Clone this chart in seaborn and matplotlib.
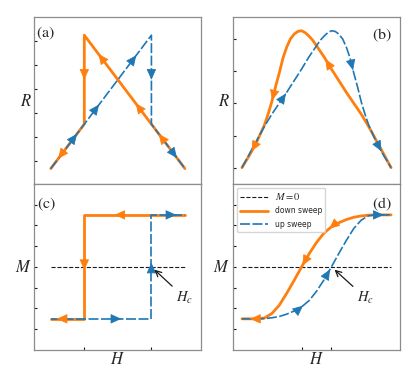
import matplotlib
matplotlib.use("Agg")
import matplotlib.pyplot as plt
import numpy as np
import pandas as pd
import seaborn as sns

# --- DATA ---
# (a) piecewise-linear R(H) loops
H_a_down = [1.0, -0.5, -0.5, -1.0]
R_a_down = [0.0, 1.5, 0.5, 0.0]
H_a_up = [-1.0, 0.5, 0.5, 1.0]
R_a_up = [0.0, 1.5, 0.5, 0.0]

# (b) smooth R(H) loops
H_b_up = [-1.0, -0.9, -0.8, -0.7, -0.6, -0.5, -0.4, -0.3, -0.2, -0.1, 0.0, 0.05, 0.1, 0.15,
          0.2, 0.25, 0.3, 0.35, 0.4, 0.45, 0.5, 0.55, 0.6, 0.65, 0.7, 0.8, 0.9, 1.0]
R_b_up = [0.0, 0.1, 0.2, 0.3, 0.39, 0.47, 0.55, 0.635, 0.72, 0.81, 0.89, 0.93, 0.96, 0.985,
          1.0, 0.995, 0.975, 0.94, 0.88, 0.80, 0.69, 0.59, 0.48, 0.39, 0.31, 0.19, 0.09, 0.0]
H_b_down = [1.0, 0.9, 0.8, 0.7, 0.6, 0.5, 0.4, 0.3, 0.2, 0.1, 0.0, -0.05, -0.1, -0.15,
            -0.2, -0.25, -0.3, -0.35, -0.4, -0.45, -0.5, -0.55, -0.6, -0.65, -0.7, -0.8, -0.9, -1.0]
R_b_down = [0.0, 0.1, 0.2, 0.3, 0.39, 0.47, 0.55, 0.635, 0.72, 0.81, 0.89, 0.93, 0.96, 0.985,
            1.0, 0.995, 0.975, 0.94, 0.88, 0.80, 0.69, 0.59, 0.48, 0.39, 0.31, 0.19, 0.09, 0.0]

# (c) square M(H) loops
H_c_down = [1.0, -0.5, -0.5, -1.0]
M_c_down = [1.0, 1.0, -1.0, -1.0]
H_c_up = [-1.0, 0.5, 0.5, 1.0]
M_c_up = [-1.0, -1.0, 1.0, 1.0]

# (d) smooth M(H) loops
H_d_up = [-1.0, -0.8, -0.7, -0.6, -0.5, -0.4, -0.3, -0.2, -0.1, 0.0,
          0.1, 0.2, 0.3, 0.4, 0.5, 0.6, 0.7, 0.8, 1.0]
M_d_up = [-1.0, -1.0, -0.995, -0.98, -0.955, -0.91, -0.85, -0.77, -0.65, -0.47,
          -0.25, 0.0, 0.26, 0.51, 0.74, 0.9, 0.985, 1.0, 1.0]
H_d_down = [1.0, 0.8, 0.7, 0.6, 0.5, 0.4, 0.3, 0.2, 0.1, 0.0,
            -0.1, -0.2, -0.3, -0.4, -0.5, -0.6, -0.7, -0.8, -1.0]
M_d_down = [1.0, 1.0, 0.995, 0.98, 0.955, 0.91, 0.85, 0.77, 0.65, 0.47,
            0.25, 0.0, -0.26, -0.51, -0.74, -0.9, -0.985, -1.0, -1.0]

# arrowheads along each sweep: (segment index, fraction along that segment)
arrows_a_down = [(0, 0.26), (0, 0.49), (0, 0.86), (1, 0.5), (2, 0.78)]
arrows_a_up = [(0, 0.26), (0, 0.48), (0, 0.85), (1, 0.5), (2, 0.76)]
arrows_b_down = [(8, 0.8), (21, 0.9), (25, 0.7)]
arrows_b_up = [(5, 0.9), (19, 0.8), (25, 0.7)]
arrows_c_down = [(0, 0.7), (1, 0.53), (2, 0.82)]
arrows_c_up = [(0, 0.7), (1, 0.54), (2, 0.74)]
arrows_d_down = [(7, 0.3), (10, 0.9), (17, 0.45)]
arrows_d_up = [(7, 0.2), (10, 0.8), (17, 0.5)]

ORANGE = "#ff7f0e"
BLUE = "#1f77b4"

sns.set_theme(style="ticks", rc={
    "axes.edgecolor": "0.55",
    "axes.linewidth": 0.9,
    "xtick.direction": "in",
    "ytick.direction": "in",
    "xtick.major.size": 2.5,
    "ytick.major.size": 2.5,
    "xtick.major.width": 0.8,
    "ytick.major.width": 0.8,
    "xtick.color": "k",
    "ytick.color": "k",
    "mathtext.fontset": "stix",
})
plt.rcParams["font.family"] = ["DejaVu Sans"]


def draw_sweep(ax, H, Y, color, lw, ls, label, z):
    df = pd.DataFrame({"H": H, "Y": Y})
    sns.lineplot(data=df, x="H", y="Y", sort=False, estimator=None, color=color,
                 linewidth=lw, linestyle=ls, label=label, zorder=z, ax=ax)


def add_arrows(ax, H, Y, specs, color):
    for i, f in specs:
        x0, y0, x1, y1 = H[i], Y[i], H[i + 1], Y[i + 1]
        tip = (x0 + f * (x1 - x0), y0 + f * (y1 - y0))
        tail = (tip[0] - 0.02 * (x1 - x0), tip[1] - 0.02 * (y1 - y0))
        ax.annotate("", xy=tip, xytext=tail,
                    arrowprops=dict(arrowstyle="-|>,head_length=0.55,head_width=0.25",
                                    color=color, lw=0.6, shrinkA=0, shrinkB=0,
                                    mutation_scale=12))


DASH = (0, (6, 1.5))

fig, axes = plt.subplots(2, 2, figsize=(4.15, 3.79), dpi=100,
                         gridspec_kw=dict(hspace=0, wspace=0.189))
fig.subplots_adjust(left=0.0827, right=0.964, bottom=0.0765, top=0.954)
ax_a, ax_b = axes[0]
ax_c, ax_d = axes[1]

# --- (a) ---
draw_sweep(ax_a, H_a_down, R_a_down, ORANGE, 2.0, "-", "down sweep", 2)
draw_sweep(ax_a, H_a_up, R_a_up, BLUE, 1.2, DASH, "up sweep", 3)
add_arrows(ax_a, H_a_down, R_a_down, arrows_a_down, ORANGE)
add_arrows(ax_a, H_a_up, R_a_up, arrows_a_up, BLUE)
ax_a.set_ylim(-0.17, 1.70)
ax_a.set_yticks(np.arange(0.09, 1.6, 0.27))

# --- (b) ---
draw_sweep(ax_b, H_b_down, R_b_down, ORANGE, 2.0, "-", "down sweep", 2)
draw_sweep(ax_b, H_b_up, R_b_up, BLUE, 1.2, DASH, "up sweep", 3)
add_arrows(ax_b, H_b_down, R_b_down, arrows_b_down, ORANGE)
add_arrows(ax_b, H_b_up, R_b_up, arrows_b_up, BLUE)
ax_b.set_ylim(-0.117, 1.097)
ax_b.set_yticks(np.arange(0, 1.0, 0.235))

# --- (c) and (d) ---
for ax, Hd, Md, Hu, Mu, ad, au in [
        (ax_c, H_c_down, M_c_down, H_c_up, M_c_up, arrows_c_down, arrows_c_up),
        (ax_d, H_d_down, M_d_down, H_d_up, M_d_up, arrows_d_down, arrows_d_up)]:
    draw_sweep(ax, [min(Hu), max(Hu)], [0, 0], "k", 0.8, "--", "$M=0$", 1)
    draw_sweep(ax, Hd, Md, ORANGE, 2.0, "-", "down sweep", 2)
    draw_sweep(ax, Hu, Mu, BLUE, 1.2, DASH, "up sweep", 3)
    add_arrows(ax, Hd, Md, ad, ORANGE)
    add_arrows(ax, Hu, Mu, au, BLUE)
    ax.set_ylim(-1.6, 1.6)
    ax.set_yticks(np.arange(-1.2, 1.3, 0.4))

# coercive fields
Hc_c = H_c_up[1]
Hc_d = H_d_up[M_d_up.index(0.0)]
ax_c.set_xticks([H_c_down[1], Hc_c])
ax_d.set_xticks([H_d_down[M_d_down.index(0.0)], Hc_d])
hc_arrow = dict(arrowstyle="->", color="k", lw=0.9, shrinkA=1, shrinkB=3)
ax_c.annotate("$H_c$", xy=(Hc_c, 0), xytext=(1.0, -0.6), ha="center", va="center",
              fontsize=10.5, arrowprops=hc_arrow)
ax_d.annotate("$H_c$", xy=(Hc_d, 0), xytext=(0.66, -0.6), ha="center", va="center",
              fontsize=10.5, arrowprops=hc_arrow)

# --- axes cosmetics ---
for ax in (ax_a, ax_c):
    ax.set_xlim(-1.245, 1.245)
for ax in (ax_b, ax_d):
    ax.set_xlim(-1.12, 1.12)

for ax in (ax_a, ax_b, ax_c, ax_d):
    ax.tick_params(labelleft=False, labelbottom=False)
    leg = ax.get_legend()
    if leg is not None:
        leg.remove()
    ax.set_xlabel("")
    ax.set_ylabel("")
    for s in ax.spines.values():
        s.set_visible(True)

for ax in (ax_a, ax_b):
    ax.tick_params(axis="x", bottom=False)
    ax.set_ylabel("$R$", rotation=0, ha="right", va="center", fontsize=12, labelpad=2)
for ax in (ax_c, ax_d):
    ax.set_ylabel("$M$", rotation=0, ha="right", va="center", fontsize=12, labelpad=2)
    ax.set_xlabel("$H$", fontsize=12, labelpad=0)

for ax, lab, x, y, ha in [(ax_a, "(a)", 0.01, 0.955, "left"),
                          (ax_b, "(b)", 0.95, 0.945, "right"),
                          (ax_c, "(c)", 0.014, 0.93, "left"),
                          (ax_d, "(d)", 0.95, 0.93, "right")]:
    ax.text(x, y, r"$\mathrm{" + lab + "}$", transform=ax.transAxes, ha=ha, va="top",
            fontsize=11.5)

leg = ax_d.legend(loc="upper left", fontsize=5.5, handlelength=3.7, handletextpad=0.9,
                  labelspacing=0.6, borderaxespad=0.5)
leg.get_texts()[0].set_fontsize(7.5)

plt.savefig("out.png", dpi=100)
plt.close()
